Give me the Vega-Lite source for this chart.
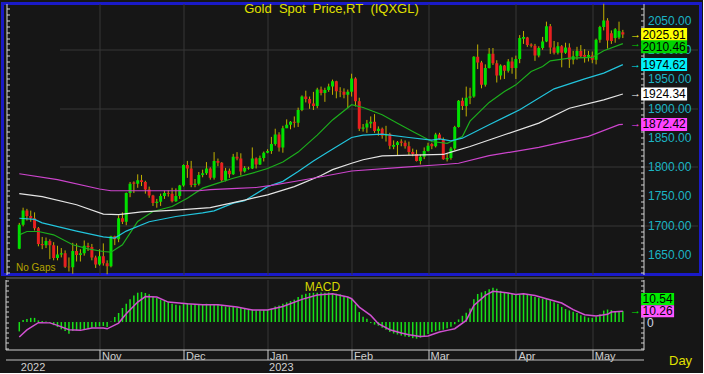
{
"$schema": "https://vega.github.io/schema/vega-lite/v6.json",
"background": "#161616",
"padding": {"left": 0.5, "top": 0.5, "right": 0, "bottom": 0},
"spacing": 5,
"bounds": "flush",
"config": {"font": "Liberation Sans", "view": {"stroke": null}},
"datasets": {
"candles": [
{"d":"2022-10-03","i":0,"o":1660,"h":1704,"l":1659,"c":1701,"m":-9},
{"d":"2022-10-04","i":1,"o":1701,"h":1730,"l":1698,"c":1725,"m":2},
{"d":"2022-10-05","i":2,"o":1725,"h":1728,"l":1708,"c":1716,"m":3},
{"d":"2022-10-06","i":3,"o":1716,"h":1725,"l":1706,"c":1712,"m":4},
{"d":"2022-10-07","i":4,"o":1712,"h":1722,"l":1691,"c":1695,"m":4},
{"d":"2022-10-10","i":5,"o":1695,"h":1697,"l":1664,"c":1668,"m":1.6},
{"d":"2022-10-11","i":6,"o":1668,"h":1680,"l":1659,"c":1666,"m":1},
{"d":"2022-10-12","i":7,"o":1666,"h":1679,"l":1661,"c":1673,"m":0.6},
{"d":"2022-10-13","i":8,"o":1673,"h":1676,"l":1642,"c":1666,"m":-1},
{"d":"2022-10-14","i":9,"o":1666,"h":1671,"l":1640,"c":1644,"m":-3},
{"d":"2022-10-17","i":10,"o":1644,"h":1665,"l":1640,"c":1650,"m":-4.8},
{"d":"2022-10-18","i":11,"o":1650,"h":1661,"l":1645,"c":1652,"m":-7},
{"d":"2022-10-19","i":12,"o":1652,"h":1657,"l":1627,"c":1629,"m":-8.7},
{"d":"2022-10-20","i":13,"o":1629,"h":1645,"l":1621,"c":1628,"m":-11.2},
{"d":"2022-10-21","i":14,"o":1628,"h":1670,"l":1617,"c":1656,"m":-8.7},
{"d":"2022-10-24","i":15,"o":1656,"h":1669,"l":1638,"c":1649,"m":-8},
{"d":"2022-10-25","i":16,"o":1649,"h":1659,"l":1638,"c":1652,"m":-7.4},
{"d":"2022-10-26","i":17,"o":1652,"h":1674,"l":1648,"c":1665,"m":-6.7},
{"d":"2022-10-27","i":18,"o":1665,"h":1670,"l":1656,"c":1663,"m":-6.4},
{"d":"2022-10-28","i":19,"o":1663,"h":1668,"l":1640,"c":1645,"m":-5.4},
{"d":"2022-10-31","i":20,"o":1645,"h":1648,"l":1627,"c":1633,"m":-4.8},
{"d":"2022-11-01","i":21,"o":1633,"h":1659,"l":1631,"c":1647,"m":-4.2},
{"d":"2022-11-02","i":22,"o":1647,"h":1669,"l":1631,"c":1635,"m":-3.8},
{"d":"2022-11-03","i":23,"o":1635,"h":1640,"l":1616,"c":1630,"m":-4.8},
{"d":"2022-11-04","i":24,"o":1630,"h":1682,"l":1628,"c":1681,"m":0.5},
{"d":"2022-11-07","i":25,"o":1681,"h":1682,"l":1666,"c":1676,"m":4.8},
{"d":"2022-11-08","i":26,"o":1676,"h":1717,"l":1671,"c":1712,"m":8.7},
{"d":"2022-11-09","i":27,"o":1712,"h":1722,"l":1702,"c":1706,"m":13.5},
{"d":"2022-11-10","i":28,"o":1706,"h":1756,"l":1700,"c":1755,"m":17.6},
{"d":"2022-11-11","i":29,"o":1755,"h":1774,"l":1748,"c":1771,"m":21.8},
{"d":"2022-11-14","i":30,"o":1773,"h":1775,"l":1755,"c":1771,"m":25.6},
{"d":"2022-11-15","i":31,"o":1771,"h":1787,"l":1764,"c":1777,"m":28.2},
{"d":"2022-11-16","i":32,"o":1777,"h":1786,"l":1767,"c":1774,"m":28.8},
{"d":"2022-11-17","i":33,"o":1774,"h":1776,"l":1754,"c":1761,"m":27.9},
{"d":"2022-11-18","i":34,"o":1761,"h":1766,"l":1747,"c":1751,"m":26.6},
{"d":"2022-11-21","i":35,"o":1751,"h":1752,"l":1733,"c":1738,"m":24.7},
{"d":"2022-11-22","i":36,"o":1738,"h":1745,"l":1730,"c":1740,"m":23},
{"d":"2022-11-23","i":37,"o":1740,"h":1754,"l":1733,"c":1750,"m":21.5},
{"d":"2022-11-24","i":38,"o":1750,"h":1759,"l":1745,"c":1755,"m":20.2},
{"d":"2022-11-25","i":39,"o":1755,"h":1760,"l":1749,"c":1754,"m":19.2},
{"d":"2022-11-28","i":40,"o":1754,"h":1764,"l":1739,"c":1741,"m":17.6},
{"d":"2022-11-29","i":41,"o":1741,"h":1763,"l":1740,"c":1750,"m":16.7},
{"d":"2022-11-30","i":42,"o":1750,"h":1769,"l":1745,"c":1768,"m":16},
{"d":"2022-12-01","i":43,"o":1768,"h":1804,"l":1766,"c":1803,"m":17.6},
{"d":"2022-12-02","i":44,"o":1803,"h":1810,"l":1781,"c":1797,"m":18.3},
{"d":"2022-12-05","i":45,"o":1797,"h":1810,"l":1765,"c":1769,"m":17},
{"d":"2022-12-06","i":46,"o":1769,"h":1779,"l":1765,"c":1771,"m":16.7},
{"d":"2022-12-07","i":47,"o":1771,"h":1791,"l":1768,"c":1786,"m":16.9},
{"d":"2022-12-08","i":48,"o":1786,"h":1795,"l":1782,"c":1789,"m":17.3},
{"d":"2022-12-09","i":49,"o":1789,"h":1808,"l":1786,"c":1797,"m":17.6},
{"d":"2022-12-12","i":50,"o":1797,"h":1799,"l":1778,"c":1781,"m":16.7},
{"d":"2022-12-13","i":51,"o":1781,"h":1825,"l":1778,"c":1810,"m":17.3},
{"d":"2022-12-14","i":52,"o":1810,"h":1814,"l":1801,"c":1807,"m":17},
{"d":"2022-12-15","i":53,"o":1807,"h":1808,"l":1774,"c":1777,"m":15.4},
{"d":"2022-12-16","i":54,"o":1777,"h":1798,"l":1775,"c":1793,"m":15},
{"d":"2022-12-19","i":55,"o":1793,"h":1797,"l":1781,"c":1787,"m":14.4},
{"d":"2022-12-20","i":56,"o":1787,"h":1822,"l":1786,"c":1817,"m":14.4},
{"d":"2022-12-21","i":57,"o":1817,"h":1825,"l":1811,"c":1814,"m":13.8},
{"d":"2022-12-22","i":58,"o":1814,"h":1823,"l":1785,"c":1792,"m":13.5},
{"d":"2022-12-23","i":59,"o":1792,"h":1801,"l":1790,"c":1798,"m":12.8},
{"d":"2022-12-26","i":60,"o":1797,"h":1800,"l":1795,"c":1798,"m":12.2},
{"d":"2022-12-27","i":61,"o":1797,"h":1833,"l":1796,"c":1814,"m":11.9},
{"d":"2022-12-28","i":62,"o":1814,"h":1816,"l":1797,"c":1804,"m":11.2},
{"d":"2022-12-29","i":63,"o":1804,"h":1819,"l":1803,"c":1815,"m":11.2},
{"d":"2022-12-30","i":64,"o":1815,"h":1826,"l":1809,"c":1824,"m":11.5},
{"d":"2023-01-02","i":65,"o":1824,"h":1830,"l":1823,"c":1827,"m":11.9},
{"d":"2023-01-03","i":66,"o":1827,"h":1851,"l":1822,"c":1839,"m":12.8},
{"d":"2023-01-04","i":67,"o":1839,"h":1865,"l":1836,"c":1855,"m":15},
{"d":"2023-01-05","i":68,"o":1855,"h":1859,"l":1826,"c":1833,"m":16},
{"d":"2023-01-06","i":69,"o":1833,"h":1870,"l":1824,"c":1866,"m":17.6},
{"d":"2023-01-09","i":70,"o":1866,"h":1881,"l":1866,"c":1872,"m":18.9},
{"d":"2023-01-10","i":71,"o":1872,"h":1878,"l":1864,"c":1877,"m":20.2},
{"d":"2023-01-11","i":72,"o":1877,"h":1886,"l":1867,"c":1875,"m":21.5},
{"d":"2023-01-12","i":73,"o":1875,"h":1901,"l":1868,"c":1897,"m":24},
{"d":"2023-01-13","i":74,"o":1897,"h":1922,"l":1895,"c":1920,"m":26.3},
{"d":"2023-01-16","i":75,"o":1920,"h":1930,"l":1910,"c":1916,"m":27.2},
{"d":"2023-01-17","i":76,"o":1916,"h":1920,"l":1899,"c":1908,"m":27.9},
{"d":"2023-01-18","i":77,"o":1908,"h":1928,"l":1897,"c":1904,"m":28.2},
{"d":"2023-01-19","i":78,"o":1904,"h":1935,"l":1900,"c":1932,"m":28.2},
{"d":"2023-01-20","i":79,"o":1932,"h":1937,"l":1922,"c":1926,"m":28.5},
{"d":"2023-01-23","i":80,"o":1926,"h":1935,"l":1911,"c":1931,"m":28.2},
{"d":"2023-01-24","i":81,"o":1931,"h":1942,"l":1928,"c":1937,"m":28.5},
{"d":"2023-01-25","i":82,"o":1937,"h":1949,"l":1923,"c":1946,"m":27.9},
{"d":"2023-01-26","i":83,"o":1946,"h":1947,"l":1917,"c":1929,"m":27.2},
{"d":"2023-01-27","i":84,"o":1929,"h":1936,"l":1919,"c":1928,"m":26.6},
{"d":"2023-01-30","i":85,"o":1928,"h":1934,"l":1917,"c":1923,"m":24.7},
{"d":"2023-01-31","i":86,"o":1923,"h":1932,"l":1900,"c":1928,"m":24},
{"d":"2023-02-01","i":87,"o":1928,"h":1959,"l":1920,"c":1951,"m":22.5},
{"d":"2023-02-02","i":88,"o":1951,"h":1953,"l":1903,"c":1912,"m":17},
{"d":"2023-02-03","i":89,"o":1912,"h":1918,"l":1861,"c":1865,"m":9.6},
{"d":"2023-02-06","i":90,"o":1865,"h":1873,"l":1860,"c":1867,"m":5},
{"d":"2023-02-07","i":91,"o":1867,"h":1880,"l":1858,"c":1874,"m":3.2},
{"d":"2023-02-08","i":92,"o":1874,"h":1886,"l":1866,"c":1877,"m":-1},
{"d":"2023-02-09","i":93,"o":1877,"h":1890,"l":1858,"c":1861,"m":-2.5},
{"d":"2023-02-10","i":94,"o":1861,"h":1869,"l":1853,"c":1865,"m":-3.5},
{"d":"2023-02-13","i":95,"o":1865,"h":1867,"l":1848,"c":1853,"m":-5.5},
{"d":"2023-02-14","i":96,"o":1853,"h":1870,"l":1843,"c":1856,"m":-7.5},
{"d":"2023-02-15","i":97,"o":1856,"h":1858,"l":1830,"c":1836,"m":-9.5},
{"d":"2023-02-16","i":98,"o":1834,"h":1845,"l":1830,"c":1837,"m":-11},
{"d":"2023-02-17","i":99,"o":1837,"h":1844,"l":1819,"c":1842,"m":-12},
{"d":"2023-02-20","i":100,"o":1843,"h":1847,"l":1835,"c":1841,"m":-13},
{"d":"2023-02-21","i":101,"o":1841,"h":1845,"l":1831,"c":1835,"m":-14},
{"d":"2023-02-22","i":102,"o":1835,"h":1843,"l":1820,"c":1825,"m":-14.5},
{"d":"2023-02-23","i":103,"o":1825,"h":1831,"l":1818,"c":1822,"m":-15.5},
{"d":"2023-02-24","i":104,"o":1822,"h":1829,"l":1809,"c":1810,"m":-16},
{"d":"2023-02-27","i":105,"o":1810,"h":1821,"l":1804,"c":1817,"m":-15},
{"d":"2023-02-28","i":106,"o":1817,"h":1833,"l":1813,"c":1827,"m":-13.5},
{"d":"2023-03-01","i":107,"o":1827,"h":1841,"l":1826,"c":1836,"m":-11.5},
{"d":"2023-03-02","i":108,"o":1839,"h":1841,"l":1830,"c":1835,"m":-9.5},
{"d":"2023-03-03","i":109,"o":1835,"h":1858,"l":1833,"c":1855,"m":-8.7},
{"d":"2023-03-06","i":110,"o":1855,"h":1858,"l":1846,"c":1847,"m":-8},
{"d":"2023-03-07","i":111,"o":1847,"h":1850,"l":1812,"c":1813,"m":-7.4},
{"d":"2023-03-08","i":112,"o":1813,"h":1823,"l":1809,"c":1815,"m":-6},
{"d":"2023-03-09","i":113,"o":1815,"h":1834,"l":1812,"c":1831,"m":-4.5},
{"d":"2023-03-10","i":114,"o":1831,"h":1870,"l":1828,"c":1868,"m":-2.2},
{"d":"2023-03-13","i":115,"o":1868,"h":1914,"l":1867,"c":1913,"m":2.5},
{"d":"2023-03-14","i":116,"o":1913,"h":1918,"l":1897,"c":1904,"m":6},
{"d":"2023-03-15","i":117,"o":1904,"h":1937,"l":1886,"c":1918,"m":9},
{"d":"2023-03-16","i":118,"o":1918,"h":1935,"l":1907,"c":1920,"m":13},
{"d":"2023-03-17","i":119,"o":1920,"h":1989,"l":1918,"c":1988,"m":22},
{"d":"2023-03-20","i":120,"o":1988,"h":2009,"l":1967,"c":1978,"m":27},
{"d":"2023-03-21","i":121,"o":1978,"h":1981,"l":1934,"c":1940,"m":28.5},
{"d":"2023-03-22","i":122,"o":1940,"h":1975,"l":1937,"c":1969,"m":29.8},
{"d":"2023-03-23","i":123,"o":1969,"h":2003,"l":1968,"c":1993,"m":31.5},
{"d":"2023-03-24","i":124,"o":1993,"h":2003,"l":1974,"c":1977,"m":33},
{"d":"2023-03-27","i":125,"o":1977,"h":1982,"l":1944,"c":1956,"m":32},
{"d":"2023-03-28","i":126,"o":1956,"h":1975,"l":1949,"c":1973,"m":30},
{"d":"2023-03-29","i":127,"o":1973,"h":1974,"l":1950,"c":1964,"m":28.8},
{"d":"2023-03-30","i":128,"o":1964,"h":1984,"l":1961,"c":1980,"m":28},
{"d":"2023-03-31","i":129,"o":1980,"h":1987,"l":1959,"c":1969,"m":27},
{"d":"2023-04-03","i":130,"o":1969,"h":1990,"l":1950,"c":1984,"m":26},
{"d":"2023-04-04","i":131,"o":1984,"h":2025,"l":1977,"c":2020,"m":26.5},
{"d":"2023-04-05","i":132,"o":2019,"h":2032,"l":2010,"c":2022,"m":27.2},
{"d":"2023-04-06","i":133,"o":2021,"h":2022,"l":2005,"c":2008,"m":26.5},
{"d":"2023-04-07","i":134,"o":2009,"h":2011,"l":2004,"c":2007,"m":25.6},
{"d":"2023-04-10","i":135,"o":2007,"h":2010,"l":1981,"c":1990,"m":24},
{"d":"2023-04-11","i":136,"o":1990,"h":2006,"l":1987,"c":2003,"m":23.4},
{"d":"2023-04-12","i":137,"o":2003,"h":2022,"l":2000,"c":2014,"m":22.4},
{"d":"2023-04-13","i":138,"o":2014,"h":2048,"l":2013,"c":2040,"m":22},
{"d":"2023-04-14","i":139,"o":2040,"h":2044,"l":1993,"c":2004,"m":20.8},
{"d":"2023-04-17","i":140,"o":2004,"h":2015,"l":1992,"c":1995,"m":19},
{"d":"2023-04-18","i":141,"o":1995,"h":2013,"l":1992,"c":2006,"m":17.6},
{"d":"2023-04-19","i":142,"o":2006,"h":2008,"l":1970,"c":1995,"m":14.5},
{"d":"2023-04-20","i":143,"o":1995,"h":2012,"l":1993,"c":2004,"m":12.5},
{"d":"2023-04-21","i":144,"o":2004,"h":2011,"l":1969,"c":1983,"m":11.2},
{"d":"2023-04-24","i":145,"o":1983,"h":1998,"l":1975,"c":1989,"m":10},
{"d":"2023-04-25","i":146,"o":1989,"h":2005,"l":1983,"c":1998,"m":8.7},
{"d":"2023-04-26","i":147,"o":1998,"h":2008,"l":1987,"c":1989,"m":6.5},
{"d":"2023-04-27","i":148,"o":1991,"h":2001,"l":1978,"c":1988,"m":5.5},
{"d":"2023-04-28","i":149,"o":1988,"h":1998,"l":1980,"c":1991,"m":4.2},
{"d":"2023-05-01","i":150,"o":1990,"h":1997,"l":1977,"c":1983,"m":4},
{"d":"2023-05-02","i":151,"o":1983,"h":2019,"l":1975,"c":2017,"m":5},
{"d":"2023-05-03","i":152,"o":2017,"h":2041,"l":2012,"c":2039,"m":7.4},
{"d":"2023-05-04","i":153,"o":2039,"h":2079,"l":2033,"c":2050,"m":11},
{"d":"2023-05-05","i":154,"o":2050,"h":2054,"l":2002,"c":2016,"m":12},
{"d":"2023-05-08","i":155,"o":2028,"h":2033,"l":2010,"c":2015,"m":11.5},
{"d":"2023-05-09","i":156,"o":2020,"h":2037,"l":2012,"c":2035,"m":10.6},
{"d":"2023-05-10","i":157,"o":2021,"h":2048,"l":2018,"c":2032,"m":10.4},
{"d":"2023-05-11","i":158,"o":2030,"h":2034,"l":2020,"c":2025.91,"m":10.54}
],
"ma": [
{"line":"MA20","i":0,"v":1683.6},{"line":"MA20","i":2,"v":1689.3},{"line":"MA20","i":5,"v":1689.3},{"line":"MA20","i":9,"v":1683.6},{"line":"MA20","i":14,"v":1666.6},{"line":"MA20","i":18,"v":1659.7},{"line":"MA20","i":22,"v":1655.1},{"line":"MA20","i":24,"v":1653.9},{"line":"MA20","i":27,"v":1666.6},{"line":"MA20","i":31,"v":1706.4},{"line":"MA20","i":35,"v":1723.5},{"line":"MA20","i":40,"v":1732},{"line":"MA20","i":44,"v":1746.2},{"line":"MA20","i":48,"v":1763.4},{"line":"MA20","i":52,"v":1771.9},{"line":"MA20","i":56,"v":1780.4},{"line":"MA20","i":61,"v":1789},{"line":"MA20","i":65,"v":1797},{"line":"MA20","i":69,"v":1808},{"line":"MA20","i":73,"v":1825},{"line":"MA20","i":78,"v":1854},{"line":"MA20","i":82,"v":1880},{"line":"MA20","i":87,"v":1906},{"line":"MA20","i":90,"v":1901.3},{"line":"MA20","i":95,"v":1888.8},{"line":"MA20","i":99,"v":1874.5},{"line":"MA20","i":103,"v":1860.3},{"line":"MA20","i":108,"v":1843.2},{"line":"MA20","i":112,"v":1840},{"line":"MA20","i":116,"v":1851.7},{"line":"MA20","i":118,"v":1878},{"line":"MA20","i":123,"v":1910},{"line":"MA20","i":127,"v":1928.6},{"line":"MA20","i":130,"v":1940},{"line":"MA20","i":134,"v":1962.8},{"line":"MA20","i":137,"v":1971.4},{"line":"MA20","i":139,"v":1981.1},{"line":"MA20","i":144,"v":1985.6},{"line":"MA20","i":150,"v":1986.8},{"line":"MA20","i":153,"v":1998.2},{"line":"MA20","i":158,"v":2010.46},
{"line":"MA50","i":0,"v":1712},{"line":"MA50","i":4,"v":1710},{"line":"MA50","i":6,"v":1704},{"line":"MA50","i":15,"v":1690},{"line":"MA50","i":22,"v":1680},{"line":"MA50","i":25,"v":1678},{"line":"MA50","i":28,"v":1690},{"line":"MA50","i":34,"v":1706},{"line":"MA50","i":41,"v":1715},{"line":"MA50","i":48,"v":1721},{"line":"MA50","i":51,"v":1724.6},{"line":"MA50","i":56,"v":1737.7},{"line":"MA50","i":59,"v":1742},{"line":"MA50","i":65,"v":1766},{"line":"MA50","i":69,"v":1775},{"line":"MA50","i":73,"v":1792},{"line":"MA50","i":77,"v":1810},{"line":"MA50","i":81,"v":1826},{"line":"MA50","i":87,"v":1850},{"line":"MA50","i":90,"v":1854},{"line":"MA50","i":95,"v":1855.6},{"line":"MA50","i":102,"v":1850},{"line":"MA50","i":108,"v":1845.4},{"line":"MA50","i":110,"v":1847.7},{"line":"MA50","i":113,"v":1844.4},{"line":"MA50","i":116,"v":1848.8},{"line":"MA50","i":123,"v":1871.7},{"line":"MA50","i":131,"v":1897.4},{"line":"MA50","i":140,"v":1933.2},{"line":"MA50","i":148,"v":1950.3},{"line":"MA50","i":153,"v":1960},{"line":"MA50","i":158,"v":1974.62},
{"line":"MA100","i":0,"v":1754},{"line":"MA100","i":6,"v":1749},{"line":"MA100","i":15,"v":1735},{"line":"MA100","i":22,"v":1719},{"line":"MA100","i":26,"v":1718},{"line":"MA100","i":32,"v":1723},{"line":"MA100","i":41,"v":1726},{"line":"MA100","i":50,"v":1730},{"line":"MA100","i":59,"v":1743},{"line":"MA100","i":65,"v":1752},{"line":"MA100","i":72,"v":1766},{"line":"MA100","i":79,"v":1785},{"line":"MA100","i":82,"v":1795},{"line":"MA100","i":87,"v":1806},{"line":"MA100","i":90,"v":1812},{"line":"MA100","i":95,"v":1818.7},{"line":"MA100","i":111,"v":1821},{"line":"MA100","i":113,"v":1825},{"line":"MA100","i":118,"v":1834.6},{"line":"MA100","i":127,"v":1854.6},{"line":"MA100","i":136,"v":1874.5},{"line":"MA100","i":144,"v":1900},{"line":"MA100","i":153,"v":1914.4},{"line":"MA100","i":158,"v":1924.34},
{"line":"MA200","i":0,"v":1788},{"line":"MA200","i":10,"v":1778},{"line":"MA200","i":21,"v":1762},{"line":"MA200","i":24,"v":1759},{"line":"MA200","i":47,"v":1759},{"line":"MA200","i":50,"v":1761},{"line":"MA200","i":57,"v":1763},{"line":"MA200","i":62,"v":1764.5},{"line":"MA200","i":66,"v":1768},{"line":"MA200","i":72,"v":1774.8},{"line":"MA200","i":78,"v":1781.6},{"line":"MA200","i":87,"v":1792.7},{"line":"MA200","i":100,"v":1799},{"line":"MA200","i":111,"v":1803.8},{"line":"MA200","i":115,"v":1806},{"line":"MA200","i":123,"v":1819},{"line":"MA200","i":136,"v":1833},{"line":"MA200","i":149,"v":1852},{"line":"MA200","i":157,"v":1872},{"line":"MA200","i":158,"v":1872.42}
],
"signal": [
{"i":0,"v":-14.4},{"i":2,"v":-7.5},{"i":5,"v":-0.6},{"i":8,"v":-0.8},{"i":10,"v":-3.2},{"i":13,"v":-7.4},{"i":16,"v":-8},{"i":19,"v":-5.8},{"i":22,"v":-5.8},{"i":23,"v":-6.5},{"i":26,"v":-1},{"i":28,"v":8},{"i":31,"v":19.2},{"i":33,"v":24.5},{"i":36,"v":24},{"i":39,"v":19.2},{"i":44,"v":17.6},{"i":48,"v":16.7},{"i":52,"v":16.7},{"i":57,"v":14.4},{"i":61,"v":11.5},{"i":65,"v":11.5},{"i":69,"v":15},{"i":74,"v":21.8},{"i":78,"v":26},{"i":82,"v":27.2},{"i":86,"v":24},{"i":87,"v":22.4},{"i":89,"v":14.4},{"i":92,"v":6.4},{"i":94,"v":-1.6},{"i":97,"v":-7.4},{"i":100,"v":-10.6},{"i":102,"v":-12.2},{"i":105,"v":-13.8},{"i":107,"v":-13.5},{"i":110,"v":-9.6},{"i":112,"v":-8},{"i":114,"v":-6.4},{"i":117,"v":1.6},{"i":119,"v":16},{"i":122,"v":25.6},{"i":124,"v":29.5},{"i":127,"v":28.5},{"i":130,"v":26.6},{"i":132,"v":27.2},{"i":135,"v":25.6},{"i":138,"v":22.4},{"i":142,"v":18.3},{"i":145,"v":11.9},{"i":148,"v":7},{"i":151,"v":5.8},{"i":154,"v":7.4},{"i":155,"v":9.6},{"i":158,"v":10.26}
],
"tags": [
{"name":"MA200","v":1872.42,"label":"1872.42"},
{"name":"MA100","v":1924.34,"label":"1924.34"},
{"name":"MA50","v":1974.62,"label":"1974.62"},
{"name":"MA20","v":2010.46,"label":"2010.46"},
{"name":"Last","v":2025.91,"label":"2025.91"}
],
"mtags": [
{"name":"Signal","v":10.26,"label":"10.26"},
{"name":"MACD","v":10.54,"label":"10.54"}
]
},
"vconcat": [
{
"width": 698,
"height": 271,
"view": {"stroke": "#1a1ac8", "strokeWidth": 3},
"title": {"text": "Gold\u00a0 Spot\u00a0 Price,RT\u00a0 (IQXGL)", "color": "#e0e000", "fontSize": 13, "fontWeight": "normal", "anchor": "middle", "offset": -23.5, "baseline": "alphabetic", "dx": -20},
"resolve": {"axis": {"x": "independent", "y": "independent"}, "scale": {"color": "independent"}},
"layer": [
{
"data": {"name": "candles"},
"mark": {"type": "rule", "color": "#c0b000", "strokeWidth": 1, "clip": true},
"encoding": {
"x": {"field": "i", "type": "quantitative", "scale": {"domain": [-2.3, 162.1], "range": [3, 641], "nice": false, "zero": false},
 "axis": {"orient": "bottom", "values": [21,43,65,87,107,130,150], "grid": true, "gridColor": "#363636", "labels": false, "ticks": false, "domain": false, "title": "No Gaps", "titleColor": "#b4a400", "titleFontSize": 10, "titleFontWeight": "normal", "titleAnchor": "start", "titleAlign": "left", "titleBaseline": "alphabetic", "titleX": 13, "titleY": -4}},
"y": {"field": "l", "type": "quantitative", "scale": {"domain": [1615.8, 2079.06], "nice": false, "zero": false},
 "axis": {"orient": "right", "offset": -57, "values": [1620,1630,1640,1650,1660,1670,1680,1690,1700,1710,1720,1730,1740,1750,1760,1770,1780,1790,1800,1810,1820,1830,1840,1850,1860,1870,1880,1890,1900,1910,1920,1930,1940,1950,1960,1970,1980,1990,2000,2010,2020,2030,2040,2050,2060,2070], "labelExpr": "datum.value % 50 === 0 ? format(datum.value, '.2f') : ''", "labelColor": "#1cb4c4", "labelFontSize": 12, "labelPadding": 7, "labelOverlap": false, "labelBound": false, "tickSize": -3, "tickColor": "#d0d0d0", "domainColor": "#d0d0d0", "grid": true, "gridColor": "#363636", "gridOpacity": {"condition": {"test": "datum.value % 100 === 0", "value": 1}, "value": 0}, "title": null}},
"y2": {"field": "h"}
}
},
{
"data": {"name": "candles"},
"mark": {"type": "bar", "size": 3, "clip": true},
"encoding": {
"x": {"field": "i", "type": "quantitative", "scale": {"domain": [-2.3, 162.1], "range": [3, 641], "nice": false, "zero": false}, "axis": null},
"y": {"field": "o", "type": "quantitative", "scale": {"domain": [1615.8, 2079.06], "nice": false, "zero": false},
 "axis": {"orient": "left", "offset": -4, "values": [1620,1630,1640,1650,1660,1670,1680,1690,1700,1710,1720,1730,1740,1750,1760,1770,1780,1790,1800,1810,1820,1830,1840,1850,1860,1870,1880,1890,1900,1910,1920,1930,1940,1950,1960,1970,1980,1990,2000,2010,2020,2030,2040,2050,2060,2070], "labels": false, "tickSize": -3, "tickColor": "#d8d8d8", "domainColor": "#d8d8d8", "grid": false, "title": null}},
"y2": {"field": "c"},
"color": {"condition": {"test": "datum.c >= datum.o", "value": "#00e000"}, "value": "#e82020"}
}
},
{
"data": {"name": "ma"},
"mark": {"type": "line", "strokeWidth": 1.2, "clip": true},
"encoding": {
"x": {"field": "i", "type": "quantitative", "scale": {"domain": [-2.3, 162.1], "range": [3, 641], "nice": false, "zero": false}, "axis": null},
"y": {"field": "v", "type": "quantitative", "scale": {"domain": [1615.8, 2079.06], "nice": false, "zero": false}, "axis": null},
"color": {"field": "line", "type": "nominal", "scale": {"domain": ["MA20","MA50","MA100","MA200"], "range": ["#1cae1c","#22c4dc","#e4e4e4","#cc44cc"]}, "legend": null}
}
},
{
"data": {"name": "tags"},
"transform": [{"filter": "datum.name !== 'MA20'"}],
"mark": {"type": "tick", "orient": "horizontal", "size": 46, "thickness": 13, "opacity": 1},
"encoding": {
"x": {"datum": 168.8, "type": "quantitative", "scale": {"domain": [-2.3, 162.1], "range": [3, 641], "nice": false, "zero": false}, "axis": null},
"y": {"field": "v", "type": "quantitative", "scale": {"domain": [1615.8, 2079.06], "nice": false, "zero": false}, "axis": null},
"color": {"field": "name", "type": "nominal", "scale": {"domain": ["Last","MA20","MA50","MA100","MA200"], "range": ["#ffff00","#00d400","#00f0f8","#ffffff","#ff44ff"]}, "legend": null}
}
},
{
"data": {"name": "tags"},
"transform": [{"filter": "datum.name === 'MA20'"}],
"mark": {"type": "tick", "orient": "horizontal", "size": 46, "thickness": 13, "opacity": 1, "yOffset": 3},
"encoding": {
"x": {"datum": 168.8, "type": "quantitative", "scale": {"domain": [-2.3, 162.1], "range": [3, 641], "nice": false, "zero": false}, "axis": null},
"y": {"field": "v", "type": "quantitative", "scale": {"domain": [1615.8, 2079.06], "nice": false, "zero": false}, "axis": null},
"color": {"field": "name", "type": "nominal", "scale": {"domain": ["Last","MA20","MA50","MA100","MA200"], "range": ["#ffff00","#00d400","#00f0f8","#ffffff","#ff44ff"]}, "legend": null}
}
},
{
"data": {"name": "tags"},
"transform": [{"filter": "datum.name !== 'MA20'"}],
"mark": {"type": "text", "fontSize": 12, "color": "#000000", "align": "center", "baseline": "middle"},
"encoding": {
"x": {"datum": 168.8, "type": "quantitative", "scale": {"domain": [-2.3, 162.1], "range": [3, 641], "nice": false, "zero": false}, "axis": null},
"y": {"field": "v", "type": "quantitative", "scale": {"domain": [1615.8, 2079.06], "nice": false, "zero": false}, "axis": null},
"text": {"field": "label"}
}
},
{
"data": {"name": "tags"},
"transform": [{"filter": "datum.name === 'MA20'"}],
"mark": {"type": "text", "fontSize": 12, "color": "#000000", "align": "center", "baseline": "middle", "yOffset": 3},
"encoding": {
"x": {"datum": 168.8, "type": "quantitative", "scale": {"domain": [-2.3, 162.1], "range": [3, 641], "nice": false, "zero": false}, "axis": null},
"y": {"field": "v", "type": "quantitative", "scale": {"domain": [1615.8, 2079.06], "nice": false, "zero": false}, "axis": null},
"text": {"field": "label"}
}
},
{
"data": {"name": "tags"},
"mark": {"type": "text", "text": "→", "fontSize": 11, "align": "center", "baseline": "middle"},
"encoding": {
"x": {"datum": 161.3, "type": "quantitative", "scale": {"domain": [-2.3, 162.1], "range": [3, 641], "nice": false, "zero": false}, "axis": null},
"y": {"field": "v", "type": "quantitative", "scale": {"domain": [1615.8, 2079.06], "nice": false, "zero": false}, "axis": null},
"color": {"field": "name", "type": "nominal", "scale": {"domain": ["Last","MA20","MA50","MA100","MA200"], "range": ["#ffff00","#00d400","#00f0f8","#ffffff","#ff44ff"]}, "legend": null}
}
}
]
},
{
"width": 698,
"height": 70,
"title": {"text": "MACD", "color": "#d8d800", "fontSize": 12, "fontWeight": "normal", "anchor": "middle", "offset": -29, "baseline": "alphabetic", "dx": -29},
"resolve": {"axis": {"x": "independent", "y": "independent"}, "scale": {"color": "independent"}},
"layer": [
{
"data": {"name": "candles"},
"mark": {"type": "bar", "size": 1.5, "color": "#18e018"},
"encoding": {
"x": {"field": "i", "type": "quantitative", "scale": {"domain": [-2.3, 162.1], "range": [3, 641], "nice": false, "zero": false},
 "axis": {"orient": "bottom", "values": [21,43,65,87,107,130,150], "labelExpr": "datum.value == 21 ? 'Nov' : datum.value == 43 ? 'Dec' : datum.value == 65 ? 'Jan' : datum.value == 87 ? 'Feb' : datum.value == 107 ? 'Mar' : datum.value == 130 ? 'Apr' : 'May'", "labelAlign": "left", "labelBaseline": "top", "labelPadding": -9, "labelOffset": 2, "labelColor": "#d0d0d0", "labelFontSize": 11, "labelFlush": false, "labelOverlap": false, "labelBound": false, "tickSize": 10, "tickColor": "#d0d0d0", "domainColor": "#d0d0d0", "grid": true, "gridColor": "#363636", "title": "Day", "titleColor": "#e0e000", "titleFontSize": 13, "titleFontWeight": "normal", "titleAlign": "left", "titleAnchor": "start", "titleBaseline": "middle", "titleX": 666, "titleY": 11}},
"y": {"field": "m", "type": "quantitative", "scale": {"domain": [-26.4, 40.9], "nice": false, "zero": false},
 "axis": {"orient": "right", "offset": -57, "values": [-25,-20,-15,-10,-5,0,5,10,15,20,25,30,35,40], "labelExpr": "datum.value === 0 ? '0' : ''", "labelColor": "#d0d8e8", "labelFontSize": 12, "labelPadding": 6, "labelOverlap": false, "labelBound": false, "tickSize": -3, "tickColor": "#d0d0d0", "domainColor": "#d0d0d0", "grid": false, "title": null}},
"y2": {"datum": 0}
}
},
{
"data": {"name": "signal"},
"mark": {"type": "line", "color": "#d050d0", "strokeWidth": 1.5},
"encoding": {
"x": {"field": "i", "type": "quantitative", "scale": {"domain": [-2.3, 162.1], "range": [3, 641], "nice": false, "zero": false},
 "axis": {"orient": "bottom", "offset": 10, "values": [0, 65], "labelExpr": "datum.value === 0 ? '2022' : '2023'", "labelAlign": "left", "labelBaseline": "top", "labelPadding": 2, "labelOffset": 1, "labelColor": "#d0d0d0", "labelFontSize": 11, "labelFlush": false, "labelOverlap": false, "ticks": false, "domainColor": "#c0c0c0", "grid": false, "title": null}},
"y": {"field": "v", "type": "quantitative", "scale": {"domain": [-26.4, 40.9], "nice": false, "zero": false},
 "axis": {"orient": "left", "offset": -3, "values": [-25,-20,-15,-10,-5,0,5,10,15,20,25,30,35,40], "labels": false, "tickSize": -3, "tickColor": "#d0d0d0", "domainColor": "#d0d0d0", "grid": false, "title": null}}
}
},
{
"data": {"name": "mtags"},
"transform": [{"filter": "datum.name === 'Signal'"}],
"mark": {"type": "tick", "orient": "horizontal", "size": 33, "thickness": 12, "opacity": 1},
"encoding": {
"x": {"datum": 167.1, "type": "quantitative", "scale": {"domain": [-2.3, 162.1], "range": [3, 641], "nice": false, "zero": false},
 "axis": {"orient": "top", "offset": 2, "labels": false, "ticks": false, "grid": false, "domainColor": "#707070", "title": null}},
"y": {"field": "v", "type": "quantitative", "scale": {"domain": [-26.4, 40.9], "nice": false, "zero": false}, "axis": null},
"color": {"field": "name", "type": "nominal", "scale": {"domain": ["MACD","Signal"], "range": ["#00ee00","#ff55ff"]}, "legend": null}
}
},
{
"data": {"name": "mtags"},
"transform": [{"filter": "datum.name === 'MACD'"}],
"mark": {"type": "tick", "orient": "horizontal", "size": 33, "thickness": 12, "opacity": 1, "yOffset": -12},
"encoding": {
"x": {"datum": 167.1, "type": "quantitative", "scale": {"domain": [-2.3, 162.1], "range": [3, 641], "nice": false, "zero": false}, "axis": null},
"y": {"field": "v", "type": "quantitative", "scale": {"domain": [-26.4, 40.9], "nice": false, "zero": false}, "axis": null},
"color": {"field": "name", "type": "nominal", "scale": {"domain": ["MACD","Signal"], "range": ["#00ee00","#ff55ff"]}, "legend": null}
}
},
{
"data": {"name": "mtags"},
"transform": [{"filter": "datum.name === 'Signal'"}],
"mark": {"type": "text", "fontSize": 12, "color": "#000000", "align": "center", "baseline": "middle"},
"encoding": {
"x": {"datum": 167.1, "type": "quantitative", "scale": {"domain": [-2.3, 162.1], "range": [3, 641], "nice": false, "zero": false}, "axis": null},
"y": {"field": "v", "type": "quantitative", "scale": {"domain": [-26.4, 40.9], "nice": false, "zero": false}, "axis": null},
"text": {"field": "label"}
}
},
{
"data": {"name": "mtags"},
"transform": [{"filter": "datum.name === 'MACD'"}],
"mark": {"type": "text", "fontSize": 12, "color": "#000000", "align": "center", "baseline": "middle", "yOffset": -12},
"encoding": {
"x": {"datum": 167.1, "type": "quantitative", "scale": {"domain": [-2.3, 162.1], "range": [3, 641], "nice": false, "zero": false}, "axis": null},
"y": {"field": "v", "type": "quantitative", "scale": {"domain": [-26.4, 40.9], "nice": false, "zero": false}, "axis": null},
"text": {"field": "label"}
}
},
{
"data": {"name": "mtags"},
"transform": [{"filter": "datum.name === 'MACD'"}],
"mark": {"type": "text", "text": "→", "fontSize": 11, "align": "center", "baseline": "middle", "color": "#00ee00"},
"encoding": {
"x": {"datum": 161.3, "type": "quantitative", "scale": {"domain": [-2.3, 162.1], "range": [3, 641], "nice": false, "zero": false}, "axis": null},
"y": {"field": "v", "type": "quantitative", "scale": {"domain": [-26.4, 40.9], "nice": false, "zero": false}, "axis": null}
}
}
]
}
]
}
